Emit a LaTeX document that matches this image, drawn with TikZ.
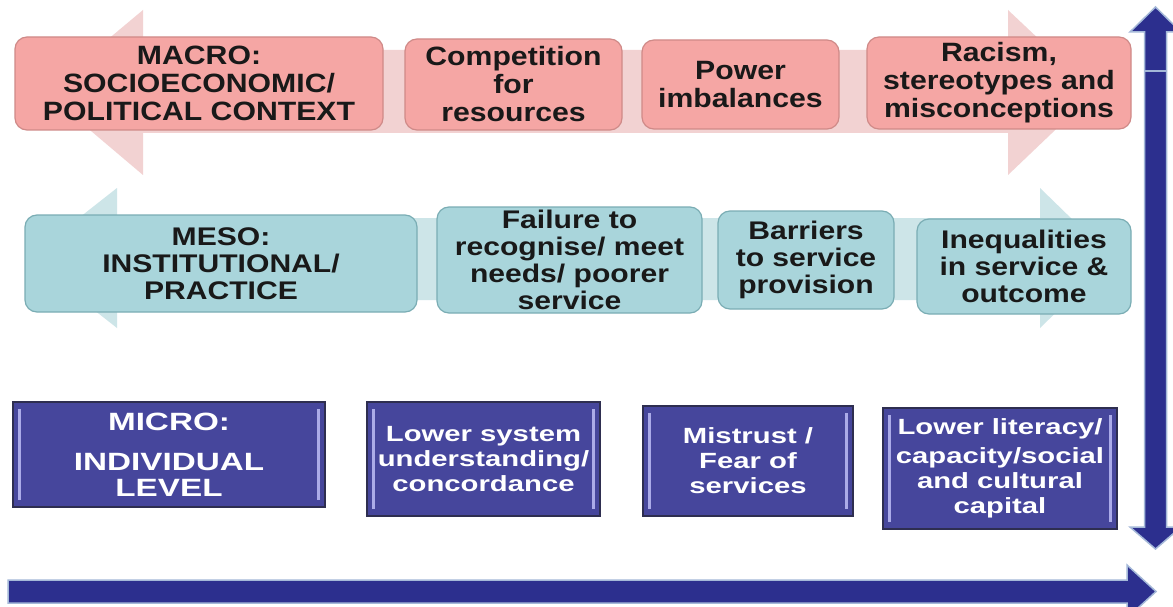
\documentclass[tikz,border=0pt]{standalone}
\usepackage{fontspec}
\setmainfont{Liberation Sans}
\newfontfamily\wideA{Liberation Sans}[FakeStretch=1.14]
\newfontfamily\wideM{Liberation Sans}[FakeStretch=1.18]
\newfontfamily\wideB{Liberation Sans}[FakeStretch=1.33]
\definecolor{pinkfill}{HTML}{F5A6A4}
\definecolor{pinkline}{HTML}{CF8A88}
\definecolor{pinkarrow}{HTML}{F2D2D2}
\definecolor{tealfill}{HTML}{A9D5DB}
\definecolor{tealline}{HTML}{7AADB4}
\definecolor{tealarrow}{HTML}{CDE5E8}
\definecolor{navy}{HTML}{2C2F8E}
\definecolor{navyedge}{HTML}{A4B8D8}
\definecolor{microfill}{HTML}{46469C}
\definecolor{microline}{HTML}{2E2E50}
\definecolor{microhl}{HTML}{ABABE8}
\begin{document}
\begin{tikzpicture}[x=1pt,y=-1pt,
  macrobox/.style={draw=pinkline, line width=1.2pt, fill=pinkfill, rounded corners=12pt,
    align=center, inner sep=0pt, text=black!90,
    font=\wideA\bfseries\fontsize{26.5}{28}\selectfont},
  mesobox/.style={draw=tealline, line width=1.2pt, fill=tealfill, rounded corners=12pt,
    align=center, inner sep=0pt, text=black!90,
    font=\wideM\bfseries\fontsize{25.5}{27}\selectfont},
  microbox/.style={draw=microline, line width=1.5pt, fill=microfill,
    align=center, inner sep=0pt, text=white,
    font=\wideB\bfseries\fontsize{22}{25}\selectfont,
    path picture={
      \fill[microhl] ([xshift=5pt,yshift=-7pt]path picture bounding box.north west)
        rectangle ([xshift=8pt,yshift=7pt]path picture bounding box.south west);
      \fill[microhl] ([xshift=-5pt,yshift=-7pt]path picture bounding box.north east)
        rectangle ([xshift=-8pt,yshift=7pt]path picture bounding box.south east);}},
  bigarrow/.style={fill=navy, draw=navyedge, line width=1.5pt, line join=miter}
]
\useasboundingbox (0,0) rectangle (1173,607);
\fill[white] (0,0) rectangle (1173,607);

% background level arrows
\fill[pinkarrow] (143,50) -- (1008,50) -- (1008,10) -- (1095,92) -- (1008,175) -- (1008,133)
  -- (143,133) -- (143,175) -- (45,92) -- (143,10) -- cycle;
\fill[tealarrow] (117,218) -- (1040,218) -- (1040,188) -- (1112,258) -- (1040,328) -- (1040,300)
  -- (117,300) -- (117,328) -- (28,258) -- (117,188) -- cycle;

% macro row
\node[macrobox, minimum width=368pt, minimum height=93pt] (macro) at (199,83.5)
  {MACRO:\\SOCIOECONOMIC/\\POLITICAL CONTEXT};
\node[macrobox, minimum width=217pt, minimum height=91pt] (compet) at (513.5,84.5)
  {Competition\\for\\resources};
\node[macrobox, minimum width=197pt, minimum height=89pt] (power) at (740.5,84.5)
  {Power\\imbalances};
\node[macrobox, minimum width=264pt, minimum height=92pt] (racism) at (999,83)
  {Racism,\\stereotypes and\\misconceptions};

% meso row
\node[mesobox, minimum width=392pt, minimum height=97pt] (meso) at (221,263.5)
  {MESO:\\INSTITUTIONAL/\\PRACTICE};
\node[mesobox, minimum width=265pt, minimum height=106pt] (failure) at (569.5,260)
  {Failure to\\recognise/ meet\\needs/ poorer\\service};
\node[mesobox, minimum width=176pt, minimum height=98pt] (barriers) at (806,260)
  {Barriers\\to service\\provision};
\node[mesobox, minimum width=214pt, minimum height=95pt] (ineq) at (1024,266.5)
  {Inequalities\\in service \&\\outcome};

% micro row
\node[microbox, minimum width=312pt, minimum height=105pt,
  font=\wideB\bfseries\fontsize{25}{26}\selectfont] (micro) at (169,454.5)
  {MICRO:\\[14pt]INDIVIDUAL\\LEVEL};
\node[microbox, minimum width=233pt, minimum height=114pt] (lowsys) at (483.5,459)
  {Lower system\\understanding/\\concordance};
\node[microbox, minimum width=210pt, minimum height=110pt] (mistrust) at (748,461)
  {Mistrust /\\Fear of\\services};
\node[microbox, minimum width=234pt, minimum height=121pt] (literacy) at (1000,468.5)
  {Lower literacy/\\[4pt]capacity/social\\and cultural\\capital};

% axes arrows
\filldraw[bigarrow] (1144.5,32) -- (1130,32) -- (1155.5,7) -- (1181,32) -- (1166.5,32)
  -- (1166.5,527) -- (1181,527) -- (1155.5,549) -- (1130,527) -- (1144.5,527) -- cycle;
\draw[navyedge, line width=1.5pt] (1144.5,71) -- (1166.5,71);
\filldraw[bigarrow] (8,580) -- (1127,580) -- (1127,565) -- (1156,591.5) -- (1127,618)
  -- (1127,603) -- (8,603) -- cycle;
\end{tikzpicture}
\end{document}
